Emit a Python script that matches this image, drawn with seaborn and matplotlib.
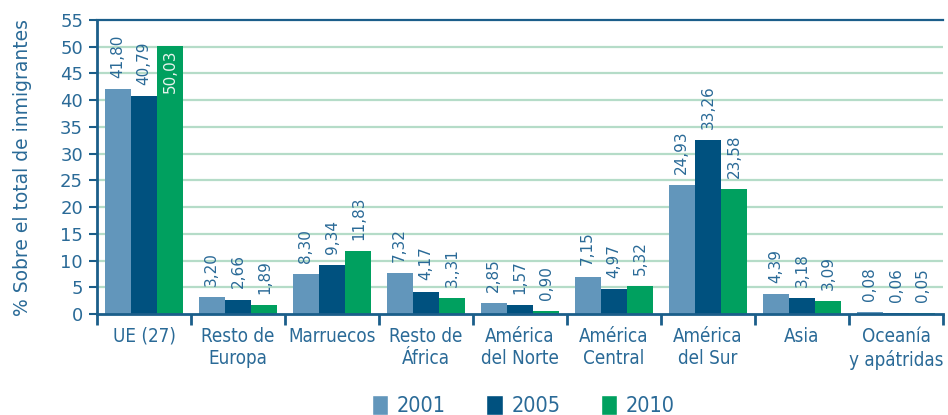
import numpy as np
import pandas as pd
import seaborn as sns
import matplotlib.pyplot as plt
from matplotlib.patches import Patch

# Datos
regiones = ["UE (27)", "Resto de\nEuropa", "Marruecos", "Resto de\nÁfrica", "América\ndel Norte",
            "América\nCentral", "América\ndel Sur", "Asia", "Oceanía\ny apátridas"]
anios = ["2001", "2005", "2010"]

# altura de las barras (tal como se dibujan)
barras_2001 = [42.0, 3.1, 7.5, 7.7, 2.1, 7.0, 24.2, 3.8, 0.35]
barras_2005 = [40.7, 2.7, 9.2, 4.2, 1.6, 4.6, 32.6, 3.0, 0.25]
barras_2010 = [50.2, 1.6, 11.7, 3.0, 0.6, 5.3, 23.3, 2.5, 0.25]

# etiquetas de valor impresas
etiq_2001 = ["41,80", "3,20", "8,30", "7,32", "2,85", "7,15", "24,93", "4,39", "0,08"]
etiq_2005 = ["40,79", "2,66", "9,34", "4,17", "1,57", "4,97", "33,26", "3,18", "0,06"]
etiq_2010 = ["50,03", "1,89", "11,83", "3.,31", "0,90", "5,32", "23,58", "3,09", "0,05"]

colores = {"2001": "#6296BB", "2005": "#00517F", "2010": "#00A05F"}
azul = "#1B5E8A"
texto = "#2A6A97"

df = pd.DataFrame({
    "region": regiones * 3,
    "anio": [a for a in anios for _ in regiones],
    "valor": barras_2001 + barras_2005 + barras_2010,
})

sns.set_style("white")
plt.rcParams["font.family"] = ["DejaVu Sans"]

fig = plt.figure(figsize=(9.48, 4.15), dpi=100)
ax = fig.add_axes([97 / 948, 101 / 415, 846 / 948, 294 / 415])

sns.barplot(data=df, x="region", y="valor", hue="anio", palette=colores,
            width=0.84, saturation=1, linewidth=0, ax=ax, legend=False)

# rejilla verde
ax.set_ylim(0, 55)
ax.set_xlim(-0.5, len(regiones) - 0.5)
ax.set_yticks(np.arange(0, 56, 5))
for y in np.arange(5, 55, 5):
    ax.axhline(y, color="#B5DCC8", lw=1.6, zorder=0)
ax.set_axisbelow(True)

ax.spines["right"].set_visible(False)
for s in ["left", "bottom", "top"]:
    ax.spines[s].set_color(azul)
    ax.spines[s].set_linewidth(2)
ax.spines["top"].set_linewidth(1.6)

# etiquetas de valor
etiquetas = [etiq_2001, etiq_2005, etiq_2010]
for cont, labs in zip(ax.containers, etiquetas):
    for bar, lab in zip(cont, labs):
        cx = bar.get_x() + bar.get_width() / 2
        h = bar.get_height()
        if h > 45:
            ax.annotate(lab, (cx, h), xytext=(0, -3), textcoords="offset points",
                        rotation=90, ha="center", va="top", fontsize=11, color="#E8F4EE")
        else:
            ax.annotate(lab, (cx, h), xytext=(0, 8), textcoords="offset points",
                        rotation=90, ha="center", va="bottom", fontsize=11, color=texto)

# ejes
ax.set_xlabel("")
ax.set_ylabel("% Sobre el total de inmigrantes", fontsize=13.5, color=texto, labelpad=20)
ax.tick_params(axis="y", which="major", length=6, width=1.5, color=azul,
               labelsize=13, labelcolor=texto, left=True, pad=4)
ax.set_xticks(np.arange(len(regiones)))
ax.set_xticklabels(regiones, fontsize=13.5, color=texto, linespacing=1.25,
                   fontstretch="condensed")
ax.tick_params(axis="x", which="major", length=0, pad=9)
ax.set_xticks(np.arange(-0.5, len(regiones)), minor=True)
ax.tick_params(axis="x", which="minor", length=8, width=2, color=azul, bottom=True)

# leyenda
handles = [Patch(facecolor=colores[a], label=a) for a in anios]
fig.legend(handles=handles, loc="lower center", ncol=3, frameon=False,
           bbox_to_anchor=(0.552, -0.05), handlelength=0.75, handleheight=1.05,
           columnspacing=1.9, handletextpad=0.4,
           prop={"size": 15.5, "stretch": "condensed"}, labelcolor=texto)

fig.savefig("out.png", dpi=100)
